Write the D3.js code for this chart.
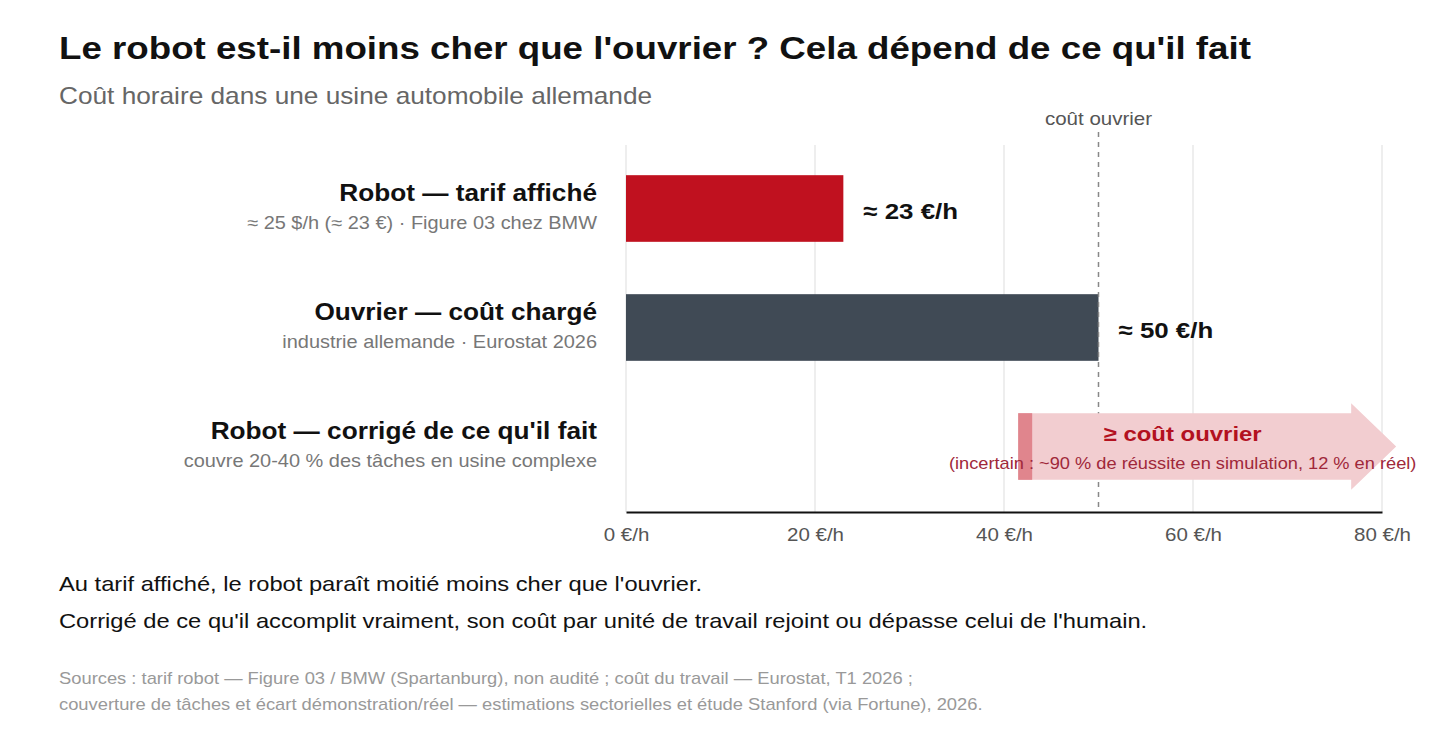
<!DOCTYPE html>
<html>
<head>
<meta charset="utf-8">
<script src="https://cdn.jsdelivr.net/npm/d3@7"></script>
<style>
  body { margin: 0; background: #fff; font-family: "Liberation Sans", Arial, sans-serif; }
  svg text { font-family: "Liberation Sans", Arial, sans-serif; }
</style>
</head>
<body>
<div id="chart"></div>
<script>
// data
var rowLabels = ["Robot — tarif affiché", "Ouvrier — coût chargé", "Robot — corrigé de ce qu'il fait"];
var rowNotes = ["≈ 25 $/h (≈ 23 €) · Figure 03 chez BMW", "industrie allemande · Eurostat 2026", "couvre 20-40 % des tâches en usine complexe"];
var barValues = [23, 50, null];
var barColors = ["#C0111F", "#404A55", null];
var valueLabels = ["≈ 23 €/h", "≈ 50 €/h", null];
var xTicks = [0, 20, 40, 60, 80];
var workerCost = 50;
var arrowRange = [41.5, 81.5];
var arrowTitle = "≥ coût ouvrier";
var arrowNote = "(incertain : ~90 % de réussite en simulation, 12 % en réel)";
var title = "Le robot est-il moins cher que l'ouvrier ? Cela dépend de ce qu'il fait";
var subtitle = "Coût horaire dans une usine automobile allemande";
var takeaway = ["Au tarif affiché, le robot paraît moitié moins cher que l'ouvrier.",
  "Corrigé de ce qu'il accomplit vraiment, son coût par unité de travail rejoint ou dépasse celui de l'humain."];
var sources = ["Sources : tarif robot — Figure 03 / BMW (Spartanburg), non audité ; coût du travail — Eurostat, T1 2026 ;",
  "couverture de tâches et écart démonstration/réel — estimations sectorielles et étude Stanford (via Fortune), 2026."];

var W = 1456, H = 743;
var SX = 1.14; // text in the original is a bit wider than its height suggests
var svg = d3.select("#chart").append("svg").attr("width", W).attr("height", H);

// put a text at (x,y) with the horizontal stretch
function place(sel, px, py) {
  return sel.attr("transform", "translate(" + px + "," + py + ") scale(" + SX + ",1)");
}

// titles
place(svg.append("text"), 59, 59)
  .attr("font-size", 32.2).attr("font-weight", "bold").attr("fill", "#111")
  .text(title);
place(svg.append("text"), 59, 104)
  .attr("font-size", 23).attr("fill", "#666")
  .text(subtitle);

// scales
var x = d3.scaleLinear().domain([0, 80]).range([626, 1382]);
var y = d3.scaleBand().domain(d3.range(rowLabels.length)).range([149, 506]).paddingInner(0.44).paddingOuter(0.22);
var plotTop = 145, plotBottom = 512;

// grid
svg.append("g").selectAll("line").data(xTicks).enter().append("line")
  .attr("x1", function(d){ return x(d); }).attr("x2", function(d){ return x(d); })
  .attr("y1", plotTop).attr("y2", plotBottom)
  .attr("stroke", "#ddd").attr("stroke-width", 1);

// axis
var xAxis = d3.axisBottom(x).tickValues(xTicks).tickSize(0).tickPadding(16)
  .tickFormat(function(d){ return d + " €/h"; });
var gx = svg.append("g").attr("transform", "translate(0," + plotBottom + ")").call(xAxis);
gx.select(".domain").attr("stroke", "#111").attr("stroke-width", 2);
gx.selectAll("text").attr("font-size", 18).attr("fill", "#555")
  .attr("transform", "scale(" + SX + ",1)")
  .style("font-family", "Liberation Sans, Arial, sans-serif");

// bars
svg.append("g").selectAll("rect").data(barValues).enter()
  .filter(function(d){ return d !== null; })
  .append("rect")
  .attr("x", x(0))
  .attr("y", function(d, i){ return y(i); })
  .attr("width", function(d){ return x(d) - x(0); })
  .attr("height", y.bandwidth())
  .attr("fill", function(d, i){ return barColors[i]; });

svg.append("g").selectAll("text").data(barValues).enter()
  .filter(function(d){ return d !== null; })
  .append("text")
  .attr("transform", function(d, i){
    return "translate(" + (x(d) + 20) + "," + (y(i) + y.bandwidth() / 2 + 10) + ") scale(" + SX + ",1)";
  })
  .attr("font-size", 22.7).attr("font-weight", "bold").attr("fill", "#111")
  .text(function(d, i){ return valueLabels[i]; });

// worker cost line
svg.append("line")
  .attr("x1", x(workerCost)).attr("x2", x(workerCost))
  .attr("y1", 132).attr("y2", plotBottom)
  .attr("stroke", "#888").attr("stroke-width", 1.5).attr("stroke-dasharray", "5,5");
place(svg.append("text"), x(workerCost), 125)
  .attr("text-anchor", "middle").attr("font-size", 18).attr("fill", "#555")
  .text("coût ouvrier");

// arrow for corrected robot
var ai = 2;
var ay0 = y(ai), ay1 = y(ai) + y.bandwidth();
var headLen = 45, headOver = 10;
var ax0 = x(arrowRange[0]), ax1 = x(arrowRange[1]);
var arrowPath = d3.path();
arrowPath.moveTo(ax0, ay0);
arrowPath.lineTo(ax1 - headLen, ay0);
arrowPath.lineTo(ax1 - headLen, ay0 - headOver);
arrowPath.lineTo(ax1, (ay0 + ay1) / 2);
arrowPath.lineTo(ax1 - headLen, ay1 + headOver);
arrowPath.lineTo(ax1 - headLen, ay1);
arrowPath.lineTo(ax0, ay1);
arrowPath.closePath();
svg.append("path").attr("d", arrowPath.toString()).attr("fill", "#F2CDD0");
svg.append("rect").attr("x", ax0).attr("y", ay0).attr("width", 14).attr("height", ay1 - ay0)
  .attr("fill", "#E0858D");

var acx = (ax0 + ax1 - headLen) / 2 - 2;
place(svg.append("text"), acx, ay0 + 28)
  .attr("text-anchor", "middle").attr("font-size", 21).attr("font-weight", "bold").attr("fill", "#B3111F")
  .text(arrowTitle);
place(svg.append("text"), acx, ay0 + 56)
  .attr("text-anchor", "middle").attr("font-size", 16).attr("fill", "#A0283A")
  .text(arrowNote);

// row labels
var rows = svg.append("g").selectAll("g").data(rowLabels).enter().append("g")
  .attr("transform", function(d, i){ return "translate(597," + (y(i) + y.bandwidth() / 2) + ") scale(" + SX + ",1)"; });
rows.append("text").attr("y", -8).attr("text-anchor", "end")
  .attr("font-size", 23).attr("font-weight", "bold").attr("fill", "#111")
  .text(function(d){ return d; });
rows.append("text").attr("y", 21).attr("text-anchor", "end")
  .attr("font-size", 17.5).attr("fill", "#777")
  .text(function(d, i){ return rowNotes[i]; });

// takeaway
svg.append("g").selectAll("text").data(takeaway).enter().append("text")
  .attr("transform", function(d, i){ return "translate(59," + (591 + i * 37) + ") scale(" + SX + ",1)"; })
  .attr("font-size", 20.8).attr("fill", "#111")
  .text(function(d){ return d; });

// sources
svg.append("g").selectAll("text").data(sources).enter().append("text")
  .attr("transform", function(d, i){ return "translate(59," + (684 + i * 26) + ") scale(" + SX + ",1)"; })
  .attr("font-size", 16.1).attr("fill", "#999")
  .text(function(d){ return d; });
</script>
</body>
</html>
